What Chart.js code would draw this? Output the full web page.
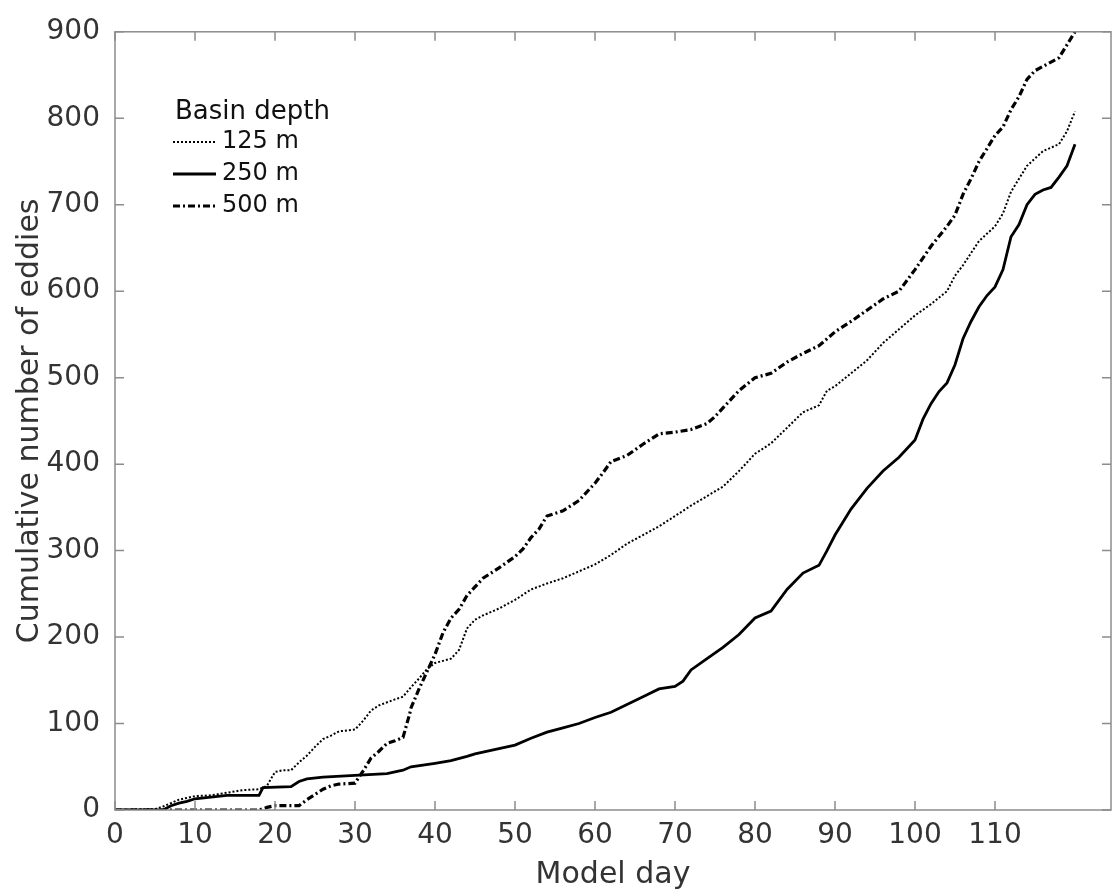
<!DOCTYPE html>
<html>
<head>
<meta charset="utf-8">
<script src="https://cdn.jsdelivr.net/npm/chart.js@4"></script>
<style>
  html, body { margin: 0; padding: 0; background: #fff; }
  #wrap { width: 1112px; height: 895px; }
</style>
</head>
<body>
<div id="wrap"><canvas id="chart" width="1112" height="895"></canvas></div>
<script>
'use strict';

// ── Data ──
const seriesLabels = ['125 m', '250 m', '500 m'];

const days125 = [0, 5, 6, 7, 8, 9, 10, 12, 14, 16, 18, 19, 20, 21, 22, 23, 24, 25, 26, 27, 28, 30, 31, 32, 33, 35, 36, 37, 38, 39, 40, 42, 43, 44, 45, 46, 48, 50, 52, 54, 56, 58, 60, 62, 64, 66, 68, 70, 72, 74, 76, 78, 80, 82, 84, 86, 88, 89, 90, 92, 94, 96, 98, 100, 102, 104, 105, 106, 108, 110, 111, 112, 114, 116, 118, 119, 120];
const eddies125 = [0, 1, 4, 8, 12, 14, 16, 17, 20, 23, 24, 28, 44, 46, 46, 55, 63, 73, 82, 86, 91, 93, 103, 115, 121, 128, 131, 142, 152, 163, 170, 175, 185, 210, 220, 225, 233, 243, 255, 262, 268, 276, 284, 295, 308, 318, 328, 340, 352, 363, 374, 392, 412, 424, 442, 460, 468, 485, 490, 505, 520, 540, 556, 572, 585, 600, 618, 630, 658, 675, 690, 715, 745, 762, 770, 785, 808];

const days250 = [0, 6, 7, 8, 9, 10, 12, 14, 18, 18.5, 22, 23, 24, 26, 30, 34, 36, 37, 40, 42, 44, 45, 48, 50, 52, 54, 56, 58, 60, 62, 64, 66, 68, 70, 71, 72, 74, 76, 78, 80, 82, 84, 86, 88, 89, 90, 92, 94, 96, 98, 100, 101, 102, 103, 104, 105, 106, 107, 108, 109, 110, 111, 112, 113, 114, 115, 116, 117, 118, 119, 120];
const eddies250 = [0, 0, 5, 8, 10, 13, 15, 17, 17, 26, 27, 33, 36, 38, 40, 42, 46, 50, 54, 57, 62, 65, 71, 75, 83, 90, 95, 100, 107, 113, 122, 131, 140, 143, 149, 162, 175, 188, 203, 222, 230, 255, 274, 283, 300, 318, 348, 372, 392, 408, 428, 452, 470, 484, 494, 515, 545, 565, 582, 595, 605, 625, 663, 677, 700, 712, 717, 720, 732, 745, 770];

const days500 = [0, 18, 19, 20, 22, 23, 24, 25, 26, 27, 28, 30, 31, 32, 33, 34, 35, 36, 36.8, 37, 38, 39, 40, 41, 42, 43, 44, 45, 46, 48, 50, 51, 52, 53, 54, 55, 56, 58, 60, 61, 62, 64, 66, 68, 70, 72, 74, 75, 76, 78, 80, 82, 84, 86, 88, 90, 92, 94, 96, 98, 100, 102, 104, 105, 106, 107, 108, 110, 111, 112, 113, 114, 115, 116, 118, 119, 120];
const eddies500 = [0, 0, 3, 5, 5, 5, 12, 18, 24, 28, 30, 31, 45, 60, 68, 77, 80, 84, 110, 118, 140, 160, 180, 205, 222, 232, 248, 258, 268, 280, 293, 302, 315, 325, 340, 343, 346, 358, 378, 390, 403, 410, 423, 435, 437, 440, 447, 455, 465, 485, 500, 505, 518, 528, 537, 553, 565, 578, 591, 600, 625, 652, 675, 688, 712, 730, 750, 780, 790, 810, 825, 845, 855, 860, 870, 885, 900];

const xTickValues = [0, 10, 20, 30, 40, 50, 60, 70, 80, 90, 100, 110];
const yTickValues = [0, 100, 200, 300, 400, 500, 600, 700, 800, 900];

// ── Styles ──
const FONT = 'DejaVu Sans, sans-serif';
const TEXT = '#333333';
const AXIS = '#8c8c8c';
const lineStyles = [
  { width: 2, dash: [2, 2] },          // dotted
  { width: 2.8, dash: [] },            // solid
  { width: 3.2, dash: [7, 3, 2, 3] },  // dash-dot
];

const toPoints = (xs, ys) => xs.map((x, i) => ({ x, y: ys[i] }));
const seriesData = [
  toPoints(days125, eddies125),
  toPoints(days250, eddies250),
  toPoints(days500, eddies500),
];

// Box around the axes with inward ticks on all four sides
const frameTicks = {
  id: 'frameTicks',
  afterDraw(chart) {
    const { ctx, chartArea: a, scales: { x, y } } = chart;
    const len = 9;
    ctx.save();
    ctx.strokeStyle = AXIS;
    ctx.lineWidth = 1.5;
    ctx.strokeRect(a.left, a.top, a.right - a.left, a.bottom - a.top);
    ctx.beginPath();
    for (const v of xTickValues) {
      const px = x.getPixelForValue(v);
      ctx.moveTo(px, a.bottom); ctx.lineTo(px, a.bottom - len);
      ctx.moveTo(px, a.top); ctx.lineTo(px, a.top + len);
    }
    for (const v of yTickValues) {
      const py = y.getPixelForValue(v);
      ctx.moveTo(a.left, py); ctx.lineTo(a.left + len, py);
      ctx.moveTo(a.right, py); ctx.lineTo(a.right - len, py);
    }
    ctx.stroke();
    ctx.restore();
  }
};

// Legend drawn inside the axes, top left
const boxLegend = {
  id: 'boxLegend',
  afterDraw(chart) {
    const { ctx } = chart;
    ctx.save();
    ctx.fillStyle = '#111';
    ctx.textBaseline = 'middle';
    ctx.textAlign = 'left';
    ctx.font = `26px ${FONT}`;
    ctx.fillText('Basin depth', 175, 112);
    ctx.font = `24px ${FONT}`;
    seriesLabels.forEach((label, i) => {
      const yy = 142 + i * 32;
      const st = lineStyles[i];
      ctx.strokeStyle = '#000';
      ctx.lineWidth = st.width;
      ctx.setLineDash(st.dash);
      ctx.beginPath();
      ctx.moveTo(173, yy);
      ctx.lineTo(216, yy);
      ctx.stroke();
      ctx.setLineDash([]);
      ctx.fillText(label, 222, yy);
    });
    ctx.restore();
  }
};

new Chart(document.getElementById('chart'), {
  type: 'line',
  plugins: [frameTicks, boxLegend],
  data: {
    datasets: seriesData.map((d, i) => ({
      label: seriesLabels[i],
      data: d,
      borderColor: '#000',
      borderWidth: lineStyles[i].width,
      borderDash: lineStyles[i].dash,
      pointRadius: 0,
      tension: 0,
      fill: false,
    }))
  },
  options: {
    responsive: false,
    animation: false,
    layout: { padding: { top: 23, right: 1, left: 0, bottom: 0 } },
    plugins: {
      legend: { display: false },
      tooltip: { enabled: false },
    },
    scales: {
      x: {
        type: 'linear',
        min: 0,
        max: 124.5,
        afterBuildTicks: s => { s.ticks = xTickValues.map(v => ({ value: v })); },
        afterFit: s => { s.height = 85; },
        grid: { display: false, drawTicks: false },
        border: { display: false },
        ticks: {
          autoSkip: false,
          maxRotation: 0,
          padding: 9,
          color: TEXT,
          font: { family: FONT, size: 28 },
        },
        title: {
          display: true,
          text: 'Model day',
          color: TEXT,
          font: { family: FONT, size: 30 },
          padding: { top: 0, bottom: 2 },
        },
      },
      y: {
        min: 0,
        max: 900,
        afterBuildTicks: s => { s.ticks = yTickValues.map(v => ({ value: v })); },
        afterFit: s => { s.width = 115; },
        grid: { display: false, drawTicks: false },
        border: { display: false },
        ticks: {
          padding: 15,
          color: TEXT,
          font: { family: FONT, size: 28 },
        },
        title: {
          display: true,
          text: 'Cumulative number of eddies',
          color: TEXT,
          font: { family: FONT, size: 30 },
          padding: { top: 12, bottom: 0 },
        },
      }
    }
  }
});
</script>
</body>
</html>
